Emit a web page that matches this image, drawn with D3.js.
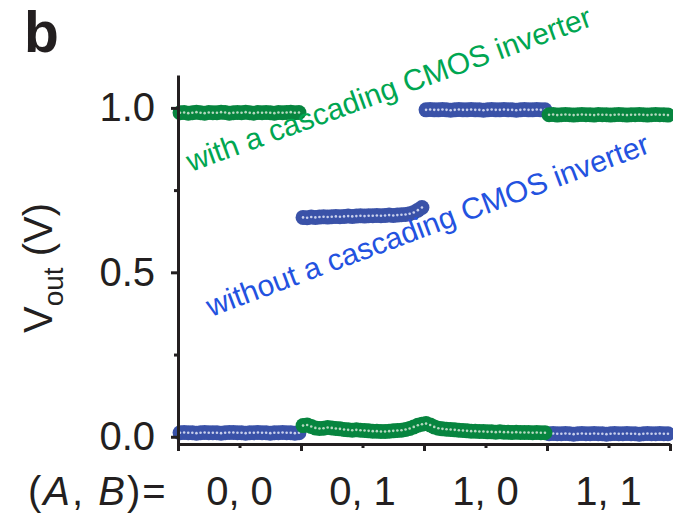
<!DOCTYPE html>
<html>
<head>
<meta charset="utf-8">
<script src="https://cdn.jsdelivr.net/npm/d3@7"></script>
<style>
  html, body { margin: 0; padding: 0; background: #fff; }
  svg { display: block; font-family: "Liberation Sans", Arial, sans-serif; }
</style>
</head>
<body>
<div id="chart"></div>
<script>
// categories on the x axis, one per input state
const categories = ["0, 0", "0, 1", "1, 0", "1, 1"];
const yMajorTicks = [0, 0.5, 1.0];
const yMinorTicks = [0.25, 0.75];

// Vout with a cascading CMOS inverter (green), 30 samples per input state
const withInv = [
  0.985,0.986,0.984,0.985,0.987,0.985,0.984,0.986,0.985,0.985,0.987,0.986,0.984,0.985,0.986,0.985,0.987,0.985,0.984,0.986,0.985,0.986,0.985,0.984,0.986,0.985,0.986,0.987,0.985,0.986,
  0.034,0.036,0.031,0.027,0.025,0.026,0.028,0.027,0.025,0.024,0.022,0.021,0.020,0.021,0.020,0.019,0.018,0.017,0.017,0.016,0.016,0.017,0.018,0.019,0.020,0.022,0.025,0.030,0.035,0.038,
  0.040,0.036,0.030,0.026,0.024,0.023,0.022,0.021,0.020,0.019,0.018,0.017,0.017,0.016,0.016,0.015,0.015,0.014,0.015,0.014,0.014,0.013,0.014,0.013,0.013,0.013,0.012,0.013,0.012,0.012,
  0.979,0.980,0.978,0.979,0.980,0.979,0.978,0.979,0.980,0.979,0.979,0.978,0.980,0.979,0.979,0.978,0.979,0.980,0.979,0.978,0.979,0.979,0.980,0.979,0.978,0.979,0.980,0.979,0.979,0.978
];

// Vout without a cascading CMOS inverter (blue)
const withoutInv = [
  0.012,0.013,0.012,0.012,0.011,0.012,0.013,0.012,0.012,0.012,0.011,0.012,0.013,0.013,0.012,0.012,0.011,0.012,0.012,0.013,0.012,0.012,0.011,0.012,0.012,0.013,0.012,0.012,0.011,0.012,
  0.667,0.666,0.668,0.667,0.668,0.669,0.668,0.669,0.670,0.669,0.670,0.671,0.670,0.671,0.672,0.671,0.672,0.672,0.673,0.672,0.673,0.674,0.673,0.674,0.675,0.676,0.678,0.682,0.689,0.697,
  0.994,0.995,0.994,0.994,0.995,0.994,0.993,0.994,0.995,0.994,0.994,0.995,0.994,0.994,0.993,0.994,0.995,0.994,0.994,0.995,0.994,0.994,0.993,0.994,0.995,0.994,0.994,0.995,0.994,0.994,
  0.009,0.010,0.009,0.009,0.010,0.009,0.008,0.009,0.010,0.009,0.009,0.010,0.009,0.009,0.008,0.009,0.010,0.009,0.009,0.010,0.009,0.009,0.008,0.009,0.010,0.009,0.009,0.010,0.009,0.009
];

const width = 673, height = 519;
const ink = "#231f20";
const green = "#07853f", blue = "#3a52a8";

const svg = d3.select("#chart").append("svg")
  .attr("width", width)
  .attr("height", height);

// scales
const x = d3.scaleLinear().domain([0, categories.length]).range([178, 670]);
const xs = d3.scaleLinear().domain([0, withInv.length]).range([178, 670]); // sample index
const y = d3.scaleLinear().domain([-0.022, 1.1]).range([444, 75]);

// data bands (blue first, green on top)
function drawSeries(vals, color, dotColor) {
  const g = svg.append("g");
  g.selectAll("circle.m")
    .data(vals)
    .join("circle")
    .attr("class", "m")
    .attr("cx", (d, i) => xs(i + 0.5))
    .attr("cy", d => y(d))
    .attr("r", 7.5)
    .attr("fill", color);
  g.selectAll("circle.c")
    .data(vals)
    .join("circle")
    .attr("class", "c")
    .attr("cx", (d, i) => xs(i + 0.5))
    .attr("cy", d => y(d))
    .attr("r", 1.3)
    .attr("fill", dotColor);
}
drawSeries(withoutInv, blue, "#c9d0ec");
drawSeries(withInv, green, "#b5d8bf");

// axes
const yAxis = svg.append("g")
  .attr("transform", "translate(178,0)")
  .call(d3.axisLeft(y).tickValues(yMajorTicks).tickSize(7).tickSizeOuter(0)
    .tickFormat(d3.format(".1f")).tickPadding(16));
svg.append("g")
  .attr("transform", "translate(178,0)")
  .call(d3.axisLeft(y).tickValues(yMinorTicks).tickSize(4).tickSizeOuter(0).tickFormat(""))
  .select(".domain").remove();

svg.append("g")
  .attr("transform", "translate(0,444)")
  .call(d3.axisBottom(x).ticks(4).tickSize(7).tickSizeOuter(0).tickFormat(""));
svg.append("g")
  .attr("transform", "translate(0,444)")
  .call(d3.axisBottom(x).tickValues(d3.range(categories.length).map(i => i + 0.5)).tickSize(4).tickFormat(""))
  .select(".domain").remove();

svg.selectAll(".domain, .tick line")
  .attr("stroke", ink)
  .attr("stroke-width", 3);
yAxis.selectAll(".tick text")
  .attr("fill", ink)
  .attr("font-size", 40)
  .attr("font-family", "Liberation Sans, Arial, sans-serif");

// category labels
svg.append("g").selectAll("text")
  .data(categories)
  .join("text")
  .attr("x", (d, i) => x(i + 0.5))
  .attr("y", 505)
  .attr("text-anchor", "middle")
  .attr("font-size", 40)
  .attr("fill", ink)
  .text(d => d);

const ab = svg.append("text")
  .attr("x", 28)
  .attr("y", 505)
  .attr("font-size", 40)
  .attr("letter-spacing", 2)
  .attr("fill", ink);
ab.append("tspan").text("(");
ab.append("tspan").attr("font-style", "italic").text("A");
ab.append("tspan").text(", ");
ab.append("tspan").attr("font-style", "italic").text("B");
ab.append("tspan").text(")=");

// y axis title
const yt = svg.append("text")
  .attr("transform", "translate(52,333) rotate(-90)")
  .attr("font-size", 40)
  .attr("fill", ink);
yt.append("tspan").text("V");
yt.append("tspan").attr("font-size", 28).attr("dy", 11).text("out");
yt.append("tspan").attr("dy", -11).text(" (V)");

// panel letter
svg.append("text")
  .attr("x", 24)
  .attr("y", 52)
  .attr("font-size", 57)
  .attr("font-weight", "bold")
  .attr("fill", ink)
  .text("b");

// series annotations
svg.append("text")
  .attr("transform", "translate(191,172) rotate(-20)")
  .attr("font-size", 30)
  .attr("fill", "#00a651")
  .text("with a cascading CMOS inverter");
svg.append("text")
  .attr("transform", "translate(211,317) rotate(-20.5)")
  .attr("font-size", 30)
  .attr("fill", "#2352e0")
  .text("without a cascading CMOS inverter");
</script>
</body>
</html>
